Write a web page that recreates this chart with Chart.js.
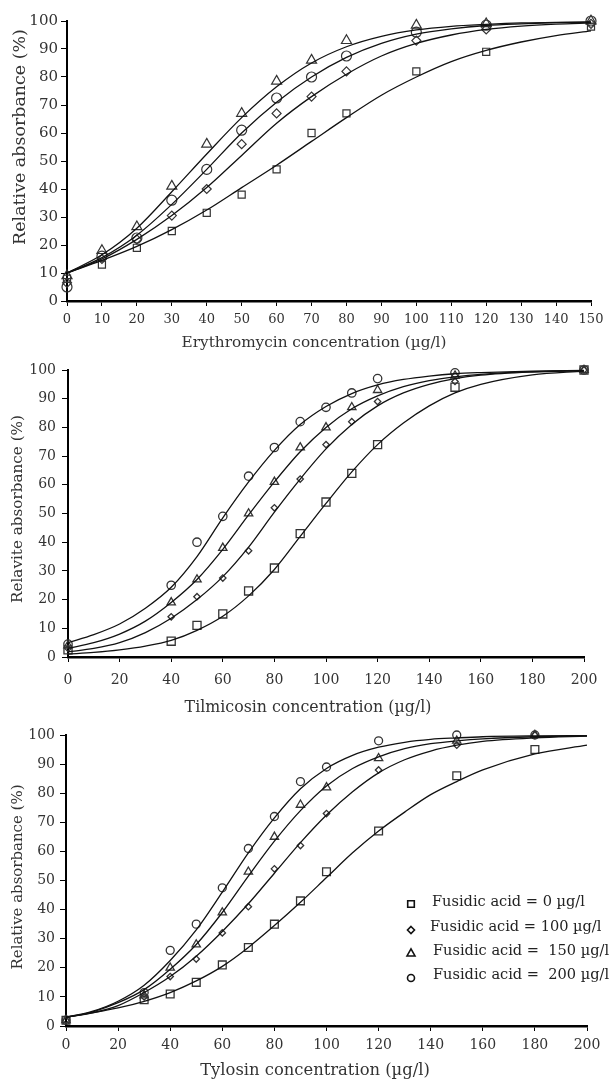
<!DOCTYPE html>
<html><head><meta charset="utf-8">
<script src="https://cdn.jsdelivr.net/npm/chart.js@4.4.1/dist/chart.umd.min.js"></script>
<style>
html,body{margin:0;padding:0;background:#fff;}
#wrap{position:relative;width:613px;height:1079px;overflow:hidden;}
canvas{position:absolute;left:0;}
</style>
</head><body><div id="wrap">
<canvas id="c1" width="613" height="355" style="top:0px"></canvas>
<canvas id="c2" width="613" height="365" style="top:355px"></canvas>
<canvas id="c3" width="613" height="359" style="top:720px"></canvas>
</div>
<script>
// ---------- DATA ----------
const seriesLabels = ['Fusidic acid = 0 \u00b5g/l', 'Fusidic acid = 100 \u00b5g/l', 'Fusidic acid =  150 \u00b5g/l', 'Fusidic acid =  200 \u00b5g/l'];

// Erythromycin panel
const eryX    = [0, 10, 20, 30, 40, 50, 60, 70, 80, 100, 120, 150];
const eryF0   = [8, 13, 19, 25, 31.5, 38, 47, 60, 67, 82, 89, 98];
const eryF100 = [6.5, 15, 22, 30.5, 40, 56, 67, 73, 82, 93, 97, 99];
const eryF150 = [9, 18, 26.5, 41, 56, 67, 78.5, 86, 93, 98.5, 99, 100];
const eryF200 = [5, 16, 22.5, 36, 47, 61, 72.5, 80, 87.5, 96, 98.5, 100];
const eryCurveX   = [0, 10, 20, 30, 40, 50, 60, 70, 80, 90, 100, 110, 120, 130, 140, 150];
const eryCurve0   = [10, 14.5, 19.5, 25.5, 32.5, 40.5, 48.5, 57, 65.5, 73.5, 80, 85.5, 89.5, 92.5, 94.8, 96.5];
const eryCurve100 = [10, 15, 22, 30.5, 40.5, 52, 63.5, 73, 81, 87.5, 92, 95, 97, 98.2, 98.9, 99.3];
const eryCurve150 = [10, 16.5, 26, 39, 52.5, 65.5, 76.5, 85, 90.8, 94.5, 96.8, 98.1, 98.8, 99.3, 99.5, 99.7];
const eryCurve200 = [10, 15.5, 23.5, 34.5, 47, 60, 71, 80, 87, 92, 95.3, 97.2, 98.4, 99, 99.4, 99.6];

// Tilmicosin panel
const tilX    = [0, 40, 50, 60, 70, 80, 90, 100, 110, 120, 150, 200];
const tilF0   = [2.5, 5.5, 11, 15, 23, 31, 43, 54, 64, 74, 94, 100];
const tilF100 = [3, 14, 21, 27.5, 37, 52, 62, 74, 82, 89, 96, 100];
const tilF150 = [4, 19, 27, 38, 50, 61, 73, 80, 87, 93, 98, 100];
const tilF200 = [4.5, 25, 40, 49, 63, 73, 82, 87, 92, 97, 99, 100];
const tilCurveX   = [0, 10, 20, 30, 40, 50, 60, 70, 80, 90, 100, 110, 120, 130, 140, 150, 160, 180, 200];
const tilCurve0   = [1, 1.6, 2.5, 3.8, 5.8, 9.3, 14.2, 21.3, 30.5, 42, 53.5, 64.5, 74, 81.5, 87.5, 92, 95, 98.3, 99.6];
const tilCurve100 = [1.8, 3, 5, 8.5, 13.5, 20, 28, 38.3, 50.5, 62, 72.5, 81, 87.5, 92, 95, 97, 98.2, 99.3, 99.8];
const tilCurve150 = [3, 5, 8, 12.5, 19, 27, 37.5, 49.5, 61, 71.5, 80, 86.5, 91, 94.2, 96.3, 97.6, 98.5, 99.4, 99.8];
const tilCurve200 = [5, 7.8, 11.5, 17, 24.3, 35, 48.5, 61, 72, 81, 87.3, 91.8, 94.8, 96.7, 97.9, 98.7, 99.1, 99.6, 99.9];

// Tylosin panel
const tylX    = [0, 30, 40, 50, 60, 70, 80, 90, 100, 120, 150, 180];
const tylF0   = [2, 9, 11, 15, 21, 27, 35, 43, 53, 67, 86, 95];
const tylF100 = [2, 10, 17, 23, 32, 41, 54, 62, 73, 88, 96.5, 100];
const tylF150 = [2, 10.5, 20, 28, 39, 53, 65, 76, 82, 92, 98, 100];
const tylF200 = [2, 11.5, 26, 35, 47.5, 61, 72, 84, 89, 98, 100, 100];
const tylCurveX   = [0, 10, 20, 30, 40, 50, 60, 70, 80, 90, 100, 110, 120, 130, 140, 150, 160, 180, 200];
const tylCurve0   = [3, 4.5, 6.2, 8.5, 11.5, 15.5, 20.5, 27, 34.5, 42.5, 51, 59.5, 67, 73.5, 79.5, 84, 88, 93.5, 96.5];
const tylCurve100 = [3, 4.5, 7, 11.5, 17, 24, 32.5, 42, 52.5, 63, 72.5, 80.5, 87, 91.5, 94.5, 96.5, 97.8, 99, 99.6];
const tylCurve150 = [3, 4.8, 8, 12.5, 19.5, 28, 39, 51.5, 63.5, 74, 82.5, 88.5, 92.5, 95.3, 97, 98, 98.7, 99.4, 99.7];
const tylCurve200 = [3, 5, 8.5, 14, 22.5, 33, 46, 59.5, 71.5, 81.5, 88.5, 93, 95.8, 97.5, 98.5, 99, 99.4, 99.7, 99.8];

const yTicks = [0, 10, 20, 30, 40, 50, 60, 70, 80, 90, 100];

// ---------- RENDER ----------
const FONT = "'DejaVu Serif', serif";
const TXT = '#333';
const pointStyles = ['rect', 'rectRot', 'triangle', 'circle'];

function fitFont(ctx, text, target, base) {
  ctx.font = base + 'px ' + FONT;
  const w = ctx.measureText(text).width;
  return (base * target / w).toFixed(2) + 'px ' + FONT;
}

function drawMarker(ctx, style, x, y, r) {
  ctx.beginPath();
  if (style === 'rect') { ctx.rect(x - r, y - r, 2 * r, 2 * r); }
  else if (style === 'rectRot') { ctx.moveTo(x, y - r); ctx.lineTo(x + r, y); ctx.lineTo(x, y + r); ctx.lineTo(x - r, y); ctx.closePath(); }
  else if (style === 'triangle') { ctx.moveTo(x, y - r); ctx.lineTo(x + r * 0.95, y + r * 0.7); ctx.lineTo(x - r * 0.95, y + r * 0.7); ctx.closePath(); }
  else { ctx.arc(x, y, r, 0, Math.PI * 2); }
  ctx.stroke();
}

const annot = {
  id: 'annot',
  afterDraw(chart, args, o) {
    const ctx = chart.ctx;
    ctx.save();
    ctx.fillStyle = TXT;
    ctx.textAlign = 'center';
    ctx.textBaseline = 'middle';
    ctx.font = fitFont(ctx, o.xTitle, o.xTitleW, 16);
    ctx.fillText(o.xTitle, o.xTitlePos[0], o.xTitlePos[1]);
    ctx.save();
    ctx.translate(o.yTitlePos[0], o.yTitlePos[1]);
    ctx.rotate(-Math.PI / 2);
    ctx.font = fitFont(ctx, o.yTitle, o.yTitleW, 16);
    ctx.fillText(o.yTitle, 0, 0);
    ctx.restore();
    if (o.legend) {
      const L = o.legend;
      ctx.textAlign = 'left';
      ctx.font = fitFont(ctx, seriesLabels[0], L.w0, 15);
      ctx.strokeStyle = '#111';
      ctx.lineWidth = 1.6;
      seriesLabels.forEach((t, i) => {
        drawMarker(ctx, pointStyles[i], L.mx, L.my[i], L.mr[i]);
        ctx.fillStyle = '#222';
        ctx.fillText(t, L.tx[i], L.ty[i]);
      });
    }
    ctx.restore();
  }
};

function makePanel(id, p) {
  const markerSets = [p.f0, p.f100, p.f150, p.f200];
  const curveSets = [p.c0, p.c100, p.c150, p.c200];
  const datasets = [];
  curveSets.forEach((c, i) => {
    datasets.push({
      label: seriesLabels[i] + ' fit',
      data: p.cx.map((x, k) => ({ x: x, y: c[k] })),
      showLine: true, pointRadius: 0, borderColor: '#111', borderWidth: 1.3,
      cubicInterpolationMode: 'monotone', fill: false, clip: false
    });
  });
  markerSets.forEach((s, i) => {
    datasets.push({
      label: seriesLabels[i],
      data: p.x.map((x, k) => ({ x: x, y: s[k] })),
      showLine: false, pointStyle: pointStyles[i], pointRadius: p.sizes[i], pointHoverRadius: p.sizes[i],
      borderColor: '#333', backgroundColor: 'rgba(0,0,0,0)', pointBorderWidth: p.mbw, clip: false
    });
  });
  const canvas = document.getElementById(id);
  new Chart(canvas, {
    type: 'scatter',
    data: { datasets },
    plugins: [annot],
    options: {
      responsive: false, animation: false, devicePixelRatio: 1,
      layout: { padding: { left: 0, top: p.area.top, right: 613 - p.area.right, bottom: 0 } },
      plugins: {
        legend: { display: false }, tooltip: { enabled: false },
        annot: {
          xTitle: p.xTitle, xTitlePos: p.xTitlePos, xTitleW: p.xTitleW,
          yTitle: p.yTitle, yTitlePos: p.yTitlePos, yTitleW: p.yTitleW,
          legend: p.legend
        }
      },
      scales: {
        x: {
          type: 'linear', min: 0, max: p.xMax,
          afterFit: s => { s.height = canvas.height - p.area.bottom; },
          afterBuildTicks: s => { s.ticks = p.xTicks.map(v => ({ value: v })); },
          ticks: { color: TXT, font: { family: FONT, size: p.xTickSize }, padding: p.xTickPad, maxRotation: 0, autoSkip: false },
          grid: { drawOnChartArea: false, drawTicks: true, tickLength: 5, color: '#000', lineWidth: 1 },
          border: { display: true, color: '#000', width: 2.5 }
        },
        y: {
          type: 'linear', min: 0, max: 100,
          afterFit: s => { s.width = p.area.left; },
          afterBuildTicks: s => { s.ticks = yTicks.map(v => ({ value: v })); },
          ticks: { color: TXT, font: { family: FONT, size: p.yTickSize }, padding: p.yTickPad, autoSkip: false },
          grid: { drawOnChartArea: false, drawTicks: true, tickLength: 6, color: '#000', lineWidth: 1 },
          border: { display: true, color: '#000', width: 2 }
        }
      }
    }
  });
}

makePanel('c1', {
  x: eryX, f0: eryF0, f100: eryF100, f150: eryF150, f200: eryF200,
  cx: eryCurveX, c0: eryCurve0, c100: eryCurve100, c150: eryCurve150, c200: eryCurve200,
  xMax: 150, xTicks: [0,10,20,30,40,50,60,70,80,90,100,110,120,130,140,150],
  area: { left: 67, right: 591, top: 21, bottom: 301 },
  xTickSize: 13, yTickSize: 15, xTickPad: 6, yTickPad: 3,
  sizes: [5, 4.5, 5.8, 5], mbw: 1.2,
  xTitle: 'Erythromycin concentration (\u00b5g/l)', xTitlePos: [314, 343], xTitleW: 265,
  yTitle: 'Relative absorbance (%)', yTitlePos: [20, 137], yTitleW: 216
});
makePanel('c2', {
  x: tilX, f0: tilF0, f100: tilF100, f150: tilF150, f200: tilF200,
  cx: tilCurveX, c0: tilCurve0, c100: tilCurve100, c150: tilCurve150, c200: tilCurve200,
  xMax: 200, xTicks: [0,20,40,60,80,100,120,140,160,180,200],
  area: { left: 68, right: 584, top: 15, bottom: 302 },
  xTickSize: 14, yTickSize: 14, xTickPad: 10, yTickPad: 6,
  sizes: [5.7, 3.2, 4.8, 4.2], mbw: 1.3,
  xTitle: 'Tilmicosin concentration (\u00b5g/l)', xTitlePos: [308, 353], xTitleW: 247,
  yTitle: 'Relavite absorbance (%)', yTitlePos: [18, 154], yTitleW: 188
});
makePanel('c3', {
  x: tylX, f0: tylF0, f100: tylF100, f150: tylF150, f200: tylF200,
  cx: tylCurveX, c0: tylCurve0, c100: tylCurve100, c150: tylCurve150, c200: tylCurve200,
  xMax: 200, xTicks: [0,20,40,60,80,100,120,140,160,180,200],
  area: { left: 66, right: 587, top: 15, bottom: 306 },
  xTickSize: 14, yTickSize: 14, xTickPad: 6, yTickPad: 5,
  sizes: [5.5, 3.2, 4.8, 4], mbw: 1.3,
  xTitle: 'Tylosin concentration (\u00b5g/l)', xTitlePos: [315, 351], xTitleW: 230,
  yTitle: 'Relative absorbance (%)', yTitlePos: [18, 157], yTitleW: 185,
  legend: { mx: 411, my: [184, 210, 233, 258], mr: [3.3, 3.5, 4.2, 3.5], tx: [432, 430, 433, 433], ty: [182, 207, 231, 255], w0: 153 }
});
</script>
</body></html>
